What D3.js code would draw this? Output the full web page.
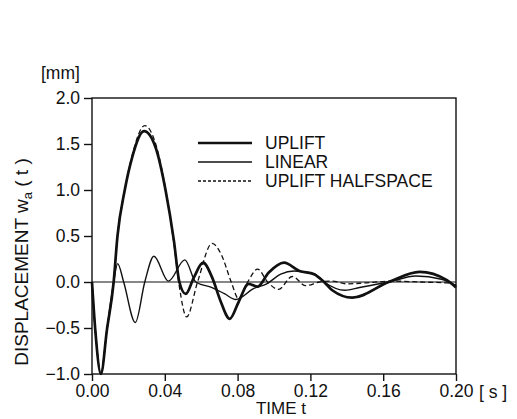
<!DOCTYPE html>
<html>
<head>
<meta charset="utf-8">
<script src="https://cdn.jsdelivr.net/npm/d3@7"></script>
<style>
body { margin: 0; background: #fff; }
text { font-family: "Liberation Sans", Arial, sans-serif; fill: #111; }
</style>
</head>
<body>
<svg id="chart" width="517" height="419"></svg>
<script>
// series: [time in s, displacement in mm]
var uplift = [[0,0],[0.0018,-0.52],[0.0049,-1.0],[0.0082,-0.52],[0.0119,0],[0.014,0.5],[0.018,1.0],
    [0.022,1.35],[0.0286,1.64],[0.035,1.46],[0.0405,0.99],[0.045,0.45],[0.048,0],[0.0515,-0.13],
    [0.056,0.05],[0.061,0.21],[0.066,0.05],[0.0705,-0.2],[0.0757,-0.40],[0.0805,-0.22],[0.086,-0.02],
    [0.091,-0.05],[0.097,0.1],[0.1055,0.21],[0.114,0.12],[0.122,0.085],[0.1275,0],[0.132,-0.09],
    [0.143,-0.17],[0.163,0],[0.180,0.11],[0.195,0.02],[0.2,-0.06]];
var linear = [[0,0],[0.0018,-0.52],[0.0049,-1.0],[0.0082,-0.52],[0.0119,0],[0.0141,0.2],[0.0174,0],
    [0.0238,-0.44],[0.029,0],[0.034,0.28],[0.042,0.01],[0.051,0.24],[0.057,0],[0.066,-0.06],
    [0.073,-0.13],[0.079,-0.19],[0.089,-0.07],[0.096,-0.02],[0.1037,0.085],[0.111,0.12],[0.122,0.09],
    [0.1275,0],[0.139,-0.09],[0.147,-0.06],[0.163,0],[0.178,0.065],[0.192,0.03],[0.2,-0.04]];
var halfspace = [[0,0],[0.0018,-0.52],[0.0049,-1.0],[0.0082,-0.52],[0.0119,0],[0.014,0.5],[0.018,1.0],
    [0.022,1.37],[0.029,1.70],[0.035,1.50],[0.0405,1.0],[0.045,0.42],[0.048,-0.05],[0.052,-0.38],
    [0.058,0],[0.066,0.42],[0.071,0.3],[0.0765,0],[0.0805,-0.18],[0.0855,0],[0.091,0.14],[0.0965,0],
    [0.1025,-0.08],[0.110,0.06],[0.1175,-0.04],[0.125,0],[0.132,0.01],[0.14,-0.02],[0.15,-0.01],
    [0.165,0.01],[0.18,0],[0.195,-0.01],[0.2,-0.03]];

var seriesNames = ['UPLIFT', 'LINEAR', 'UPLIFT HALFSPACE'];
var xTicks = [0, 0.04, 0.08, 0.12, 0.16, 0.20];
var yTicks = [-1.0, -0.5, 0.0, 0.5, 1.0, 1.5, 2.0];

var svg = d3.select('#chart');
// plot box in pixels
var box = {left: 92, right: 456, top: 98, bottom: 374};

var x = d3.scaleLinear().domain([0, 0.2]).range([box.left, box.right]);
var y = d3.scaleLinear().domain([-1, 2]).range([box.bottom, box.top]);

// frame
svg.append('rect')
    .attr('x', box.left).attr('y', box.top)
    .attr('width', box.right - box.left).attr('height', box.bottom - box.top)
    .attr('fill', 'none').attr('stroke', '#111').attr('stroke-width', 1.4);

// zero line
svg.append('line')
    .attr('x1', box.left).attr('x2', box.right)
    .attr('y1', y(0)).attr('y2', y(0))
    .attr('stroke', '#111').attr('stroke-width', 1.1);

var xAxis = svg.append('g')
    .attr('transform', 'translate(0,' + box.bottom + ')')
    .call(d3.axisBottom(x).tickValues(xTicks).tickFormat(d3.format('.2f'))
        .tickSize(7).tickPadding(4));
var yAxis = svg.append('g')
    .attr('transform', 'translate(' + box.left + ',0)')
    .call(d3.axisLeft(y).tickValues(yTicks).tickFormat(d3.format('.1f'))
        .tickSize(8).tickPadding(4));

[xAxis, yAxis].forEach(function(g) {
    g.select('.domain').remove();
    g.selectAll('line').attr('stroke', '#111').attr('stroke-width', 1.4);
    g.selectAll('text').attr('font-size', 17.5).attr('fill', '#111')
        .style('font-family', '"Liberation Sans", Arial, sans-serif');
});

// unit labels
svg.append('text').attr('x', 41).attr('y', 79).attr('font-size', 17.5).text('[mm]');
svg.append('text').attr('x', 479).attr('y', 398).attr('font-size', 17.5)
    .attr('xml:space', 'preserve').text('[ s ]');
svg.append('text').attr('x', 281).attr('y', 414).attr('text-anchor', 'middle')
    .attr('font-size', 17).text('TIME t');

var ytitle = svg.append('text')
    .attr('transform', 'translate(28,262) rotate(-90)')
    .attr('text-anchor', 'middle')
    .attr('font-size', 19);
ytitle.append('tspan').text('DISPLACEMENT w');
ytitle.append('tspan').attr('font-size', 13).attr('dy', 4).text('a');
ytitle.append('tspan').attr('dy', -4).text(' ( t )');

// curves
var line = d3.line()
    .x(function(d) { return x(d[0]); })
    .y(function(d) { return y(d[1]); })
    .curve(d3.curveMonotoneX);

var styles = [
    {data: uplift, width: 2.7, dash: null},
    {data: linear, width: 1.4, dash: null},
    {data: halfspace, width: 1.3, dash: '5,3'}
];

styles.forEach(function(s) {
    svg.append('path')
        .datum(s.data)
        .attr('d', line)
        .attr('fill', 'none')
        .attr('stroke', '#111')
        .attr('stroke-width', s.width)
        .attr('stroke-dasharray', s.dash);
});

// legend
var legend = svg.append('g');
seriesNames.forEach(function(name, i) {
    var ly = 143 + i * 19;
    legend.append('line')
        .attr('x1', 198).attr('x2', 252).attr('y1', ly).attr('y2', ly)
        .attr('stroke', '#111')
        .attr('stroke-width', styles[i].width)
        .attr('stroke-dasharray', styles[i].dash === null ? null : '3,2');
    legend.append('text')
        .attr('x', 265).attr('y', ly).attr('dy', '0.36em')
        .attr('font-size', 17.5).text(name);
});
</script>
</body>
</html>
